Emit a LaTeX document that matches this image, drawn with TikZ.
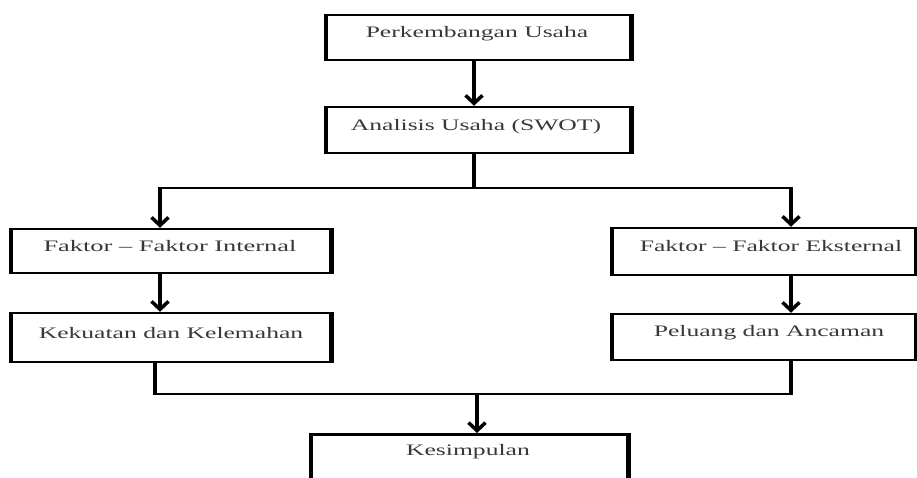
\documentclass[tikz,border=0pt]{standalone}
\usepackage{fontspec}
\setmainfont{Liberation Serif}
\usetikzlibrary{arrows.meta}
\tikzset{
  box/.style={draw=black, line width=2.5pt, fill=white, inner sep=0pt},
  side/.style={line width=4.5pt, line cap=butt},
  txt/.style={text=black!78, font=\fontsize{16}{18}\selectfont, inner sep=0pt},
  vline/.style={line width=4pt},
  hline/.style={line width=2.6pt},
  arr/.style={line width=4pt, -{Straight Barb[length=8pt,width=17pt,line width=3.5pt]}},
}
\newcommand{\wtxt}[1]{\scalebox{1.6}[1]{#1}}
\begin{document}
\begin{tikzpicture}[x=1pt,y=-1pt]
\useasboundingbox (0,0) rectangle (917,477);
\clip (0,0) rectangle (917,477);
% boxes
\node[box, minimum width=303pt, minimum height=45pt] (p) at (478.5,37.5) {};
\node[box, minimum width=303pt, minimum height=46pt] (a) at (478.5,130) {};
\node[box, minimum width=318pt, minimum height=44pt] (fi) at (171,251) {};
\node[box, minimum width=318pt, minimum height=49pt] (kk) at (171,337.5) {};
\node[box, minimum width=302pt, minimum height=47pt] (fe) at (764,251.5) {};
\node[box, minimum width=302pt, minimum height=46pt] (pa) at (764,337) {};
\node[box, minimum width=315pt, minimum height=70pt, anchor=north] (ks) at (469.5,433) {};
\foreach \n in {p,a,fi,kk,fe,pa,ks}{
  \draw[side] (\n.north west) -- (\n.south west) (\n.north east) -- (\n.south east);
}
% texts
\node[txt] (tp) at (477,34) {\wtxt{Perkembangan Usaha}};
\node[txt] (ta) at (476,127) {\wtxt{Analisis Usaha (SWOT)}};
\node[txt] (tfi) at (170,246) {\scalebox{1.65}[1]{Faktor -- Faktor Internal}};
\node[txt] (tkk) at (171,333) {\wtxt{Kekuatan dan Kelemahan}};
\node[txt] (tfe) at (771,246) {\wtxt{Faktor -- Faktor Eksternal}};
\node[txt] (tpa) at (769,333) {\wtxt{Peluang dan Ancaman}};
\node[txt] (tks) at (468,452) {\wtxt{Kesimpulan}};
% junction coordinates
\coordinate (j1) at (474,188);
\coordinate (l1) at (160,188);
\coordinate (r1) at (791,188);
\coordinate (l2) at (155,394);
\coordinate (r2) at (791,394);
\coordinate (j2) at (477,394);
% connectors
\draw[arr] (p.south -| j1) -- (a.north -| j1);
\draw[vline] (a.south -| j1) -- (j1);
\draw[hline] ([xshift=-2pt]l1) -- ([xshift=2pt]r1);
\draw[arr] ([yshift=-1pt]l1) -- (l1 |- fi.north);
\draw[arr] ([yshift=-1pt]r1) -- (r1 |- fe.north);
\draw[arr] (fi.south -| l1) -- (kk.north -| l1);
\draw[arr] (fe.south -| r1) -- (pa.north -| r1);
\draw[vline] (kk.south -| l2) -- ([yshift=1pt]l2);
\draw[vline] (pa.south -| r2) -- ([yshift=1pt]r2);
\draw[hline] ([xshift=-2pt]l2) -- ([xshift=2pt]r2);
\draw[arr] (j2) -- (ks.north -| j2);
\end{tikzpicture}
\end{document}
